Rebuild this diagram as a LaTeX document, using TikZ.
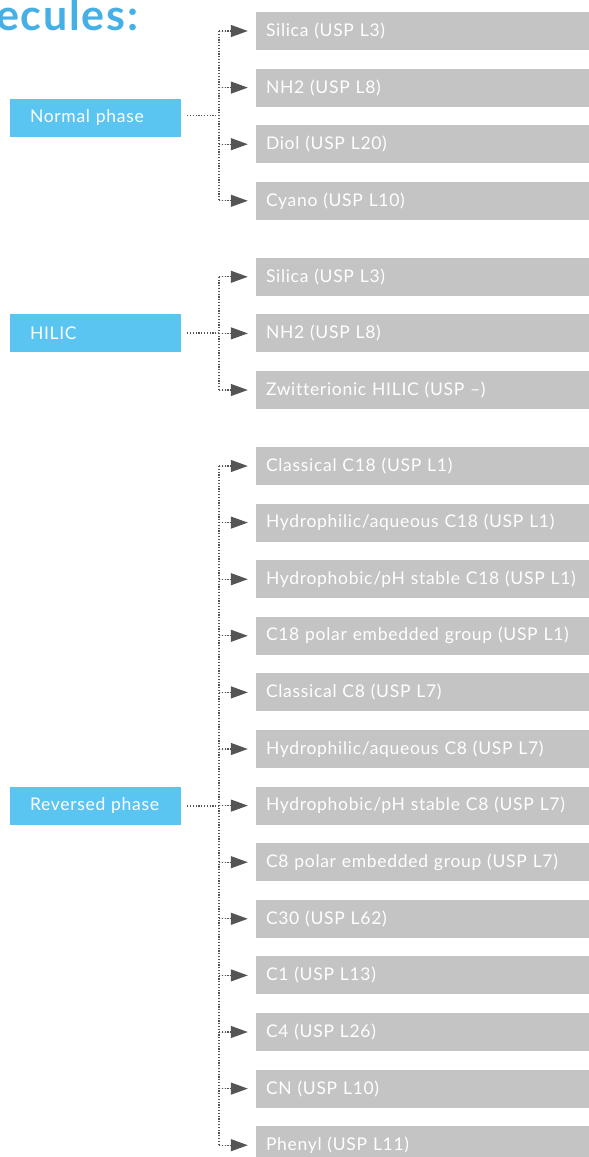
\documentclass[tikz,border=0pt]{standalone}
\usepackage{fontspec}
\setmainfont{Lato}
\newfontfamily\boxfont{Lato}[LetterSpace=4,Ligatures=NoCommon]
\newfontfamily\titlefont{Lato}[LetterSpace=4]
\usetikzlibrary{positioning,arrows.meta}

\definecolor{phaseblue}{HTML}{5BC5F2}
\definecolor{titleblue}{HTML}{45B0E5}
\definecolor{colgray}{HTML}{C4C4C4}
\definecolor{linkgray}{HTML}{555555}

\tikzset{
  phase/.style={fill=phaseblue, text=white, minimum height=38pt, text width=151pt,
    inner xsep=10pt, inner ysep=0pt, align=left, font=\boxfont\fontsize{17.5}{20}\selectfont,
    execute at begin node=\hspace*{10pt}},
  column/.style={fill=colgray, text=white, minimum height=38pt, text width=340pt,
    inner xsep=10pt, inner ysep=0pt, align=left, font=\boxfont\fontsize{17.5}{20}\selectfont},
  link/.style={draw=linkgray, line width=1.2pt, dash pattern=on 1.2pt off 1.6pt},
  arr/.style={-{Triangle[length=17pt,width=12pt]}, shorten >=8pt, fill=linkgray},
}

\begin{document}
\begin{tikzpicture}[x=1pt,y=1pt,node distance=56.6pt,on grid]
\useasboundingbox (0,0) rectangle (589,-1157);

\node[anchor=base west, text=titleblue, inner sep=0pt, font=\titlefont\fontsize{43}{46}\selectfont\bfseries] (title) at (-4,-30) {ecules:};

% normal phase
\node[phase] (np) at (95.5,-118) {Normal phase};
\node[column] (n1) at (436,-31) {Silica (USP L3)};
\node[column] (n2) [below=of n1] {NH2 (USP L8)};
\node[column] (n3) [below=of n2] {Diol (USP L20)};
\node[column] (n4) [below=of n3] {Cyano (USP L10)};

% hilic
\node[phase] (hp) at (95.5,-333) {HILIC};
\node[column] (h1) [below=76pt of n4] {Silica (USP L3)};
\node[column] (h2) [below=of h1] {NH2 (USP L8)};
\node[column] (h3) [below=of h2] {Zwitterionic HILIC (USP –)};

% reversed phase
\node[phase] (rp) at (95.5,-806) {Reversed phase};
\node[column] (r1) [below=76pt of h3] {Classical C18 (USP L1)};
\node[column] (r2) [below=of r1] {Hydrophilic/aqueous C18 (USP L1)};
\node[column] (r3) [below=of r2] {Hydrophobic/pH stable C18 (USP L1)};
\node[column] (r4) [below=of r3] {C18 polar embedded group (USP L1)};
\node[column] (r5) [below=of r4] {Classical C8 (USP L7)};
\node[column] (r6) [below=of r5] {Hydrophilic/aqueous C8 (USP L7)};
\node[column] (r7) [below=of r6] {Hydrophobic/pH stable C8 (USP L7)};
\node[column] (r8) [below=of r7] {C8 polar embedded group (USP L7)};
\node[column] (r9) [below=of r8] {C30 (USP L62)};
\node[column] (r10) [below=of r9] {C1 (USP L13)};
\node[column] (r11) [below=of r10] {C4 (USP L26)};
\node[column] (r12) [below=of r11] {CN (USP L10)};
\node[column] (r13) [below=of r12] {Phenyl (USP L11)};

\coordinate (nb) at (219,-115.5);
\coordinate (hb) at (219,-333);
\coordinate (rb) at (219,-806);

\draw[link, shorten <=6pt] (np.east |- nb) -- (nb);
\draw[link] (n1.west -| nb) -- (n4.west -| nb);
\foreach \c in {n1,n2,n3,n4}
  \draw[link,arr] (\c.west -| nb) -- (\c);

\draw[link, shorten <=6pt] (hp) -- (hb);
\draw[link] (h1.west -| hb) -- (h3.west -| hb);
\foreach \c in {h1,h2,h3}
  \draw[link,arr] (\c.west -| hb) -- (\c);

\draw[link, shorten <=6pt] (rp) -- (rb);
\draw[link] (r1.west -| rb) -- (r13.west -| rb);
\foreach \c in {r1,r2,r3,r4,r5,r6,r7,r8,r9,r10,r11,r12,r13}
  \draw[link,arr] (\c.west -| rb) -- (\c);
\end{tikzpicture}
\end{document}
